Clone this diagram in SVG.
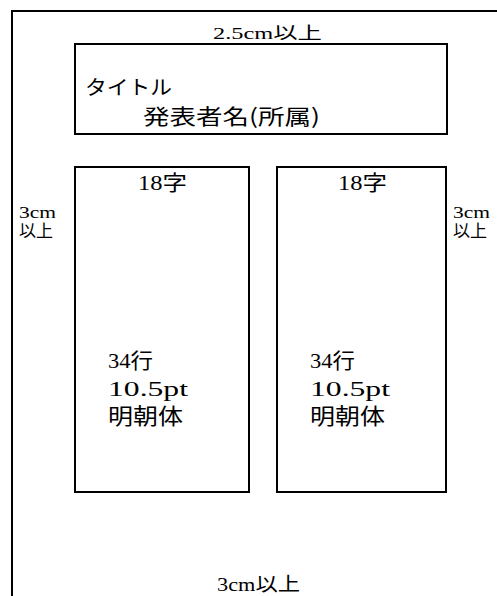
<svg xmlns="http://www.w3.org/2000/svg" width="497" height="596" viewBox="0 0 497 596">
<style>
.box{fill:none;stroke:#000;stroke-width:2}
.t{fill:#000;font-family:"Liberation Serif","Noto Sans CJK JP",serif}
.g{fill:#000;font-family:"Noto Sans CJK JP","Noto Sans CJK SC",sans-serif}
</style>
<rect width="497" height="596" fill="#fff"/>
<g id="page">
<path class="box" d="M12,596 V11 H497"/>
</g>
<g id="margin-top">
<text class="t" x="213" y="39" font-size="17" textLength="109" lengthAdjust="spacingAndGlyphs">2.5cm以上</text>
</g>
<g id="margin-left">
<text class="t" x="19" y="218" font-size="17" textLength="37" lengthAdjust="spacingAndGlyphs">3cm</text>
<text class="t" x="19" y="237" font-size="17" textLength="34" lengthAdjust="spacingAndGlyphs">以上</text>
</g>
<g id="margin-right">
<text class="t" x="453" y="218" font-size="17" textLength="37" lengthAdjust="spacingAndGlyphs">3cm</text>
<text class="t" x="453" y="237" font-size="17" textLength="34" lengthAdjust="spacingAndGlyphs">以上</text>
</g>
<g id="margin-bottom">
<text class="t" x="217" y="591" font-size="19" textLength="83" lengthAdjust="spacingAndGlyphs">3cm以上</text>
</g>
<g id="title-box">
<rect class="box" x="75" y="44" width="372" height="90"/>
<text class="g" x="85" y="95" font-size="20" textLength="87" lengthAdjust="spacingAndGlyphs">タイトル</text>
<text class="g" x="143" y="124" font-size="21" textLength="177" lengthAdjust="spacingAndGlyphs">発表者名(所属)</text>
</g>
<g id="column-left">
<rect class="box" x="75" y="167" width="174" height="325"/>
<text class="t" x="138" y="190" font-size="21" textLength="49" lengthAdjust="spacingAndGlyphs">18字</text>
<text class="t" x="108" y="368" font-size="21" textLength="45" lengthAdjust="spacingAndGlyphs">34行</text>
<text class="t" x="108" y="396" font-size="21" textLength="80" lengthAdjust="spacingAndGlyphs">10.5pt</text>
<text class="t" x="108" y="424" font-size="22" textLength="75" lengthAdjust="spacingAndGlyphs">明朝体</text>
</g>
<g id="column-right">
<rect class="box" x="277" y="167" width="169" height="325"/>
<text class="t" x="338" y="190" font-size="21" textLength="49" lengthAdjust="spacingAndGlyphs">18字</text>
<text class="t" x="310" y="368" font-size="21" textLength="45" lengthAdjust="spacingAndGlyphs">34行</text>
<text class="t" x="310" y="396" font-size="21" textLength="80" lengthAdjust="spacingAndGlyphs">10.5pt</text>
<text class="t" x="310" y="424" font-size="22" textLength="75" lengthAdjust="spacingAndGlyphs">明朝体</text>
</g>
<g id="connectors"/>
</svg>
